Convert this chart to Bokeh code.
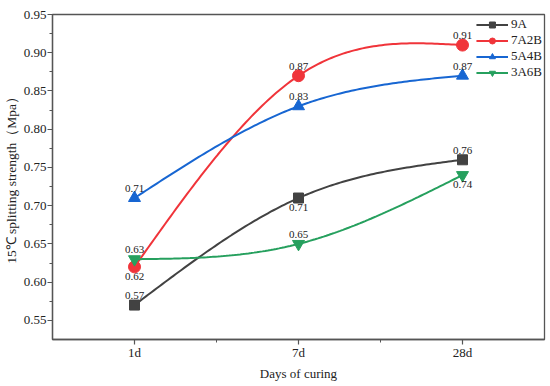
import numpy as np
from bokeh.plotting import figure
from bokeh.models import FixedTicker, Legend, LegendItem, CustomJSTickFormatter
from bokeh.core.properties import value
from bokeh.embed import file_html
from bokeh.resources import INLINE

categories = ["1d", "7d", "28d"]
series_names = ["9A", "7A2B", "5A4B", "3A6B"]
vals_9A = [0.57, 0.71, 0.76]
vals_7A2B = [0.62, 0.87, 0.91]
vals_5A4B = [0.71, 0.83, 0.87]
vals_3A6B = [0.63, 0.65, 0.74]
label_pos_9A = ["above", "below", "above"]
label_pos_7A2B = ["below", "above", "above"]
label_pos_5A4B = ["above", "above", "above"]
label_pos_3A6B = ["above", "above", "below"]
y_ticks = [0.55, 0.60, 0.65, 0.70, 0.75, 0.80, 0.85, 0.90, 0.95]

colors = ["#424242", "#f0343a", "#1766d2", "#26a05e"]
markers = ["square", "circle", "triangle", "inverted_triangle"]
msizes = [10, 12, 12, 12]

FONT = "Liberation Serif"


def natural_spline(xs, ys, n=60):
    xs = np.asarray(xs, float)
    ys = np.asarray(ys, float)
    k = len(xs)
    h = np.diff(xs)
    A = np.zeros((k, k))
    b = np.zeros(k)
    A[0, 0] = 1
    A[-1, -1] = 1
    for i in range(1, k - 1):
        A[i, i - 1] = h[i - 1]
        A[i, i] = 2 * (h[i - 1] + h[i])
        A[i, i + 1] = h[i]
        b[i] = 6 * ((ys[i + 1] - ys[i]) / h[i] - (ys[i] - ys[i - 1]) / h[i - 1])
    M = np.linalg.solve(A, b)
    out_x, out_y = [], []
    for i in range(k - 1):
        t = np.linspace(xs[i], xs[i + 1], n)
        a = xs[i + 1] - t
        c = t - xs[i]
        y = (M[i] * a**3 + M[i + 1] * c**3) / (6 * h[i]) \
            + (ys[i] / h[i] - M[i] * h[i] / 6) * a \
            + (ys[i + 1] / h[i] - M[i + 1] * h[i] / 6) * c
        out_x.extend(t.tolist())
        out_y.extend(y.tolist())
    return out_x, out_y


xpos = list(range(1, len(categories) + 1))

p = figure(width=550, height=386, output_backend="svg", toolbar_location=None,
           x_range=(0.5, 3.5), y_range=(0.525, 0.95),
           min_border_left=50, min_border_right=6, min_border_top=14, min_border_bottom=47)

p.xgrid.visible = False
p.ygrid.visible = False
p.outline_line_color = "#555555"
p.outline_line_width = 1.3
p.background_fill_color = "white"
p.border_fill_color = "white"

p.xaxis.ticker = FixedTicker(ticks=xpos, minor_ticks=[1.5, 2.5])
p.xaxis.major_label_overrides = {i: c for i, c in zip(xpos, categories)}
p.yaxis.ticker = FixedTicker(ticks=y_ticks,
                             minor_ticks=[t + 0.025 for t in [0.525] + y_ticks[:-1]])
p.yaxis.formatter = CustomJSTickFormatter(code="return tick.toFixed(2);")

for ax in (p.xaxis[0], p.yaxis[0]):
    ax.axis_line_color = "#555555"
    ax.axis_line_width = 1.3
    ax.major_tick_line_color = "#555555"
    ax.minor_tick_line_color = "#555555"
    ax.major_tick_line_width = 1.2
    ax.minor_tick_line_width = 1.0
    ax.major_tick_out = 5
    ax.major_tick_in = 0
    ax.minor_tick_out = 3
    ax.minor_tick_in = 0
    ax.major_label_text_font = FONT
    ax.major_label_text_font_size = "13px"
    ax.major_label_text_color = "#222222"
    ax.axis_label_text_font = FONT
    ax.axis_label_text_font_style = "normal"
    ax.axis_label_text_color = "#222222"

p.xaxis.axis_label = "Days of curing"
p.yaxis.axis_label = "15℃ splitting strength（Mpa）"
p.xaxis.axis_label_text_font_size = "13px"
p.yaxis.axis_label_text_font_size = "13.5px"
p.xaxis.major_label_standoff = 0
p.yaxis.major_label_standoff = 1
p.xaxis.axis_label_standoff = 3
p.yaxis.axis_label_standoff = 2

all_vals = [vals_9A, vals_7A2B, vals_5A4B, vals_3A6B]
all_pos = [label_pos_9A, label_pos_7A2B, label_pos_5A4B, label_pos_3A6B]

items = []
for name, vals, pos, col, mk, ms in zip(series_names, all_vals, all_pos, colors, markers, msizes):
    sx, sy = natural_spline(xpos, vals)
    ln = p.line(sx, sy, line_color=col, line_width=2)
    sc = p.scatter(xpos, vals, marker=mk, size=ms, fill_color=col, line_color=col)
    items.append(LegendItem(label=name, renderers=[ln, sc]))
    for xv, yv, ps in zip(xpos, vals, pos):
        if ps == "above":
            p.text([xv], [yv], text=[f"{yv:.2f}"], text_font=value(FONT), text_font_size="11px",
                   text_align="center", text_baseline="bottom", y_offset=-6, text_color="#222222")
        else:
            p.text([xv], [yv], text=[f"{yv:.2f}"], text_font=value(FONT), text_font_size="11px",
                   text_align="center", text_baseline="top", y_offset=6, text_color="#222222")

legend = Legend(items=items, location="top_right")
legend.border_line_color = None
legend.background_fill_alpha = 0
legend.label_text_font = FONT
legend.label_text_font_size = "13px"
legend.label_text_color = "#222222"
legend.glyph_width = 32
legend.glyph_height = 15
legend.label_height = 15
legend.label_standoff = 3
legend.spacing = 0
legend.padding = 2
legend.margin = 2
p.add_layout(legend)

open("out.html", "w").write(file_html(p, INLINE))
